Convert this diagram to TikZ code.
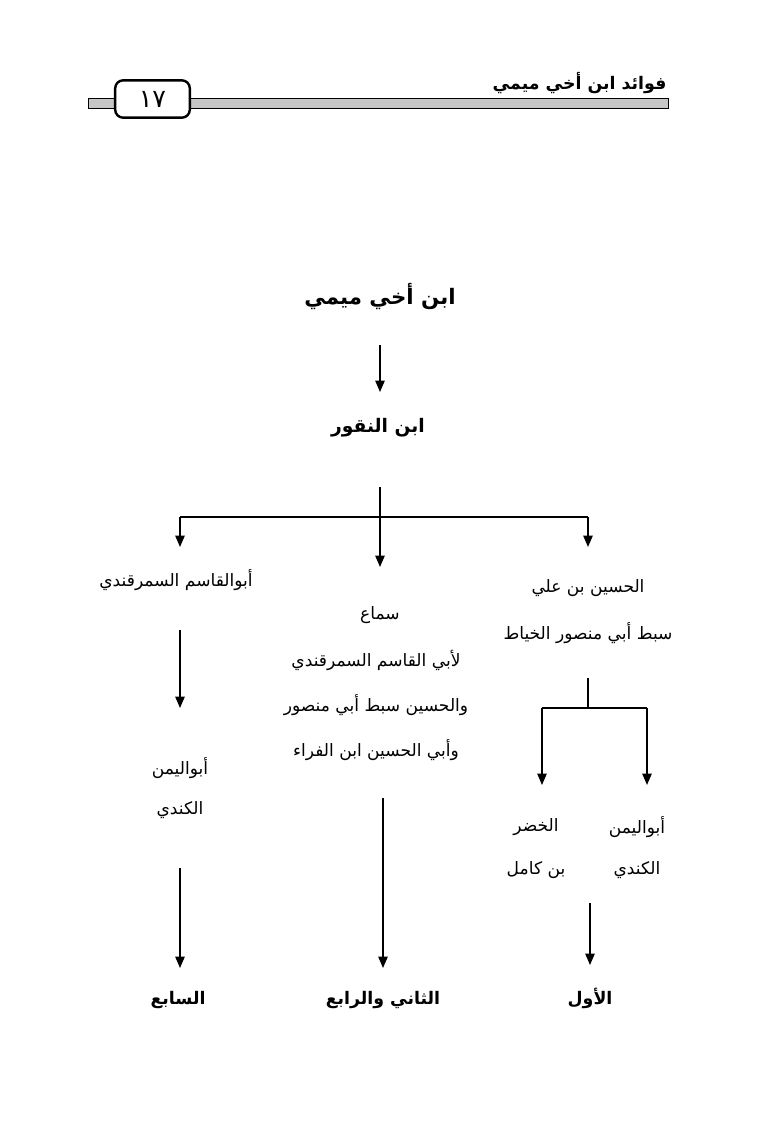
\documentclass[tikz,border=0pt]{standalone}
\usepackage{fontspec}
\usepackage{tikz}
\usetikzlibrary{arrows.meta,positioning}
\TeXXeTstate=1
\newfontfamily\arabicfont[Script=Arabic]{DejaVu Sans}
\newcommand{\artext}[1]{\beginR #1\endR}

\begin{document}
\begin{tikzpicture}[
    x=0.75pt, y=-0.75pt,
    toptitle/.style={font=\arabicfont\bfseries\fontsize{16}{19}\selectfont, inner sep=1pt},
    grade/.style={font=\arabicfont\bfseries\fontsize{13}{15}\selectfont, inner sep=1pt},
    person/.style={font=\arabicfont\fontsize{12.8}{15}\selectfont, inner sep=1pt},
    flow/.style={-{Triangle[length=8.5pt,width=7pt]}, line width=1.1pt},
    branch/.style={line width=1.1pt},
    band/.style={draw, line width=.6pt, fill=gray!45}
]
\useasboundingbox (0,0) rectangle (758,1123);

% Page header
\draw[band] (88,98) rectangle (115,108);
\draw[band] (190,98) rectangle (668,108);
\node[draw, line width=1.8pt, rounded corners=6pt, fill=white,
      minimum width=56pt, minimum height=28pt, inner sep=0pt,
      font=\arabicfont\fontsize{19}{22}\selectfont] (pagebox) at (152.5,99) {١٧};
\node[grade, anchor=base east] (runhead) at (668,90) {\artext{فوائد ابن أخي ميمي}};

% Top of the chain
\node[toptitle] (maimi) at (380,297) {\artext{ابن أخي ميمي}};
\node[grade, font=\arabicfont\bfseries\fontsize{14}{16}\selectfont] (naqqur) at (378,428) {\artext{ابن النقور}};
\coordinate (a1) at (380,345);
\coordinate (a2) at (380,392);
\draw[flow] (a1) -- (a2);

% Three branches
\coordinate (split) at (380,487);
\coordinate (splitL) at (180,517);
\coordinate (splitR) at (588,517);
\coordinate (endL) at (180,547);
\coordinate (endM) at (380,567);
\coordinate (endR) at (588,547);
\draw[branch] (splitL) -- (splitR);
\draw[flow] (split) -- (endM);
\draw[flow] (splitL) -- (endL);
\draw[flow] (splitR) -- (endR);

% Left column
\node[person] (samarqandi) at (176,580) {\artext{أبوالقاسم السمرقندي}};
\node[person] (yumnL) at (180,768) {\artext{أبواليمن}};
\node[person] (kindiL) at (180,810) {\artext{الكندي}};
\node[grade] (sabi) at (178,1000) {\artext{السابع}};
\coordinate (b1) at (180,630);
\coordinate (b2) at (180,708);
\coordinate (b3) at (180,868);
\coordinate (b4) at (180,968);
\draw[flow] (b1) -- (b2);
\draw[flow] (b3) -- (b4);

% Middle column
\node[person] (samaa) at (380,615) {\artext{سماع}};
\node[person] (line1) at (376,660) {\artext{لأبي القاسم السمرقندي}};
\node[person] (line2) at (376,705) {\artext{والحسين سبط أبي منصور}};
\node[person] (line3) at (376,750) {\artext{وأبي الحسين ابن الفراء}};
\node[grade] (thani) at (383,1000) {\artext{الثاني والرابع}};
\coordinate (c1) at (383,798);
\coordinate (c2) at (383,968);
\draw[flow] (c1) -- (c2);

% Right column
\node[person] (husain) at (588,588) {\artext{الحسين بن علي}};
\node[person] (sibt) at (588,633) {\artext{سبط أبي منصور الخياط}};
\coordinate (d0) at (588,678);
\coordinate (dL) at (542,708);
\coordinate (dR) at (647,708);
\coordinate (dM) at (588,708);
\coordinate (dLend) at (542,785);
\coordinate (dRend) at (647,785);
\draw[branch] (d0) -- (dM);
\draw[branch] (dL) -- (dR);
\draw[flow] (dL) -- (dLend);
\draw[flow] (dR) -- (dRend);
\node[person] (yumnR) at (637,827) {\artext{أبواليمن}};
\node[person] (kindiR) at (637,870) {\artext{الكندي}};
\node[person] (khadir) at (536,827) {\artext{الخضر}};
\node[person] (kamil) at (536,870) {\artext{بن كامل}};
\coordinate (e1) at (590,903);
\coordinate (e2) at (590,965);
\draw[flow] (e1) -- (e2);
\node[grade] (awwal) at (590,998) {\artext{الأول}};

\end{tikzpicture}
\end{document}
